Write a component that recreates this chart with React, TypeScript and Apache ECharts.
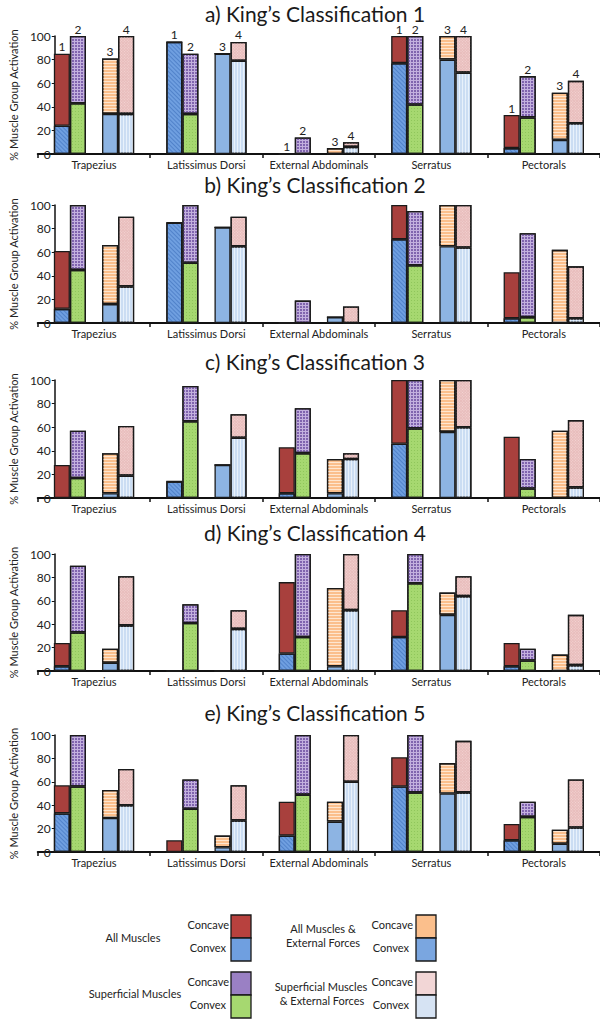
import React, { useEffect, useRef } from "react";
import * as echarts from "echarts";

const muscles = ["Trapezius", "Latissimus Dorsi", "External Abdominals", "Serratus", "Pectorals"];
const panelTitles = [
  "a) King\u2019s Classification 1",
  "b) King\u2019s Classification 2",
  "c) King\u2019s Classification 3",
  "d) King\u2019s Classification 4",
  "e) King\u2019s Classification 5",
];
const yTicks = [0, 20, 40, 60, 80, 100];
const barNumbers = ["1", "2", "3", "4"];

// rows = panels a..e, columns = muscles; values are bar heights (% activation)
const allMusclesConvex = [
  [24, 95, 0, 77, 5],
  [12, 85, 0, 71, 4],
  [0, 14, 4, 46, 0],
  [4, 0, 15, 29, 4],
  [33, 0, 14, 56, 10],
];
const allMusclesConcave = [
  [85, 95, 0, 100, 33],
  [61, 85, 0, 100, 43],
  [28, 14, 43, 100, 52],
  [24, 0, 76, 52, 24],
  [57, 10, 43, 81, 24],
];
const superficialConvex = [
  [43, 34, 0, 42, 31],
  [45, 51, 0, 49, 5],
  [17, 65, 38, 59, 8],
  [33, 41, 29, 75, 9],
  [56, 37, 49, 51, 30],
];
const superficialConcave = [
  [100, 85, 14, 100, 66],
  [100, 100, 19, 95, 76],
  [57, 95, 76, 100, 33],
  [90, 57, 100, 100, 19],
  [100, 62, 100, 100, 43],
];
const allExtConvex = [
  [34, 85, 0, 80, 12],
  [16, 81, 5, 65, 0],
  [4, 28, 4, 56, 0],
  [7, 0, 4, 48, 0],
  [29, 4, 26, 50, 7],
];
const allExtConcave = [
  [81, 85, 5, 100, 52],
  [66, 81, 5, 100, 62],
  [38, 28, 33, 100, 57],
  [19, 0, 71, 67, 14],
  [53, 14, 43, 76, 19],
];
const supExtConvex = [
  [34, 79, 6, 69, 26],
  [31, 65, 0, 64, 4],
  [19, 51, 33, 60, 9],
  [39, 36, 52, 64, 5],
  [40, 27, 60, 51, 21],
];
const supExtConcave = [
  [100, 95, 10, 100, 62],
  [90, 90, 14, 100, 48],
  [61, 71, 38, 100, 66],
  [81, 52, 100, 81, 48],
  [71, 57, 100, 95, 62],
];

const FONT = "Lato, 'Open Sans', sans-serif";
const BORDER = "#1a1a1a";

const styles = {
  allConvex: {
    color: "#6f9fe0",
    decal: { symbol: "rect", symbolSize: 1, color: "rgba(45,95,175,0.45)", dashArrayX: [1, 0], dashArrayY: [1, 2], rotation: Math.PI / 4 },
  },
  allConcave: { color: "#a8403d" },
  supConvex: {
    color: "#a6d870",
    decal: { symbol: "rect", symbolSize: 1, color: "rgba(120,180,70,0.5)", dashArrayX: [1, 2], dashArrayY: [1, 2] },
  },
  supConcave: {
    color: "#c3b0de",
    decal: { symbol: "rect", symbolSize: 1, color: "#8064ae", dashArrayX: [2, 1], dashArrayY: [2, 1] },
  },
  extConvex: { color: "#8db4e3" },
  extConcave: {
    color: "#fbbf8c",
    decal: { symbol: "rect", symbolSize: 1, color: "rgba(255,238,220,0.85)", dashArrayX: [1, 0], dashArrayY: [1, 2] },
  },
  supExtConvex: {
    color: "#cbddf3",
    decal: { symbol: "rect", symbolSize: 1, color: "rgba(235,243,252,0.9)", dashArrayX: [1, 2], dashArrayY: [1, 0] },
  },
  supExtConcave: {
    color: "#e8bdbc",
    decal: { symbol: "rect", symbolSize: 1, color: "rgba(245,215,214,0.9)", dashArrayX: [1, 1], dashArrayY: [1, 1], rotation: Math.PI / 4 },
  },
};

const gridTops = [36, 205, 380, 554, 735];
const gridBottoms = [154, 323, 498, 671, 852];
const titleTops = [5, 176, 353, 524, 704];

function buildOption() {
  const grids: any[] = [];
  const xAxes: any[] = [];
  const yAxes: any[] = [];
  const series: any[] = [];
  const titles: any[] = [];

  const groups = [
    { convex: allMusclesConvex, concave: allMusclesConcave, cs: styles.allConvex, ks: styles.allConcave },
    { convex: superficialConvex, concave: superficialConcave, cs: styles.supConvex, ks: styles.supConcave },
    { convex: allExtConvex, concave: allExtConcave, cs: styles.extConvex, ks: styles.extConcave },
    { convex: supExtConvex, concave: supExtConcave, cs: styles.supExtConvex, ks: styles.supExtConcave },
  ];

  for (let p = 0; p < 5; p++) {
    titles.push({
      text: panelTitles[p],
      left: 315,
      textAlign: "center",
      top: titleTops[p],
      padding: 0,
      textStyle: { fontFamily: FONT, fontSize: 21, lineHeight: 17, fontWeight: "normal", color: "#1a1a1a" },
    });
    grids.push({ left: 19, right: -15, top: gridTops[p], height: gridBottoms[p] - gridTops[p] });
    xAxes.push({
      type: "category",
      gridIndex: p,
      data: muscles,
      axisLine: { lineStyle: { color: "#111", width: 2 } },
      axisTick: { show: true, length: 4, lineStyle: { color: "#111", width: 1.5 } },
      axisLabel: { fontFamily: FONT, fontSize: 11, color: "#222", margin: 5, interval: 0 },
    });
    yAxes.push({
      type: "value",
      gridIndex: p,
      min: 0,
      max: 100,
      interval: 20,
      offset: -17,
      name: "% Muscle Group Activation",
      nameLocation: "middle",
      nameRotate: 90,
      nameGap: 23,
      nameTextStyle: { fontFamily: FONT, fontSize: 11, color: "#222" },
      axisLine: { show: true, lineStyle: { color: "#111", width: 1.5 } },
      axisTick: { show: true, length: 3, lineStyle: { color: "#111" } },
      splitLine: { show: false },
      axisLabel: {
        fontFamily: FONT,
        fontSize: 12,
        color: "#222",
        margin: 4,
        formatter: (v: number) => (yTicks.includes(v) ? String(v) : ""),
      },
    });

    groups.forEach((g, k) => {
      const stack = `p${p}b${k}`;
      const conv = g.convex[p];
      const conc = g.concave[p];
      const common = {
        type: "bar",
        xAxisIndex: p,
        yAxisIndex: p,
        stack,
        barGap: "0%",
        barCategoryGap: "28.57%",
      };
      series.push({
        ...common,
        name: `${stack}-convex`,
        data: conv,
        itemStyle: { ...g.cs, borderColor: BORDER, borderWidth: 1.3 },
      });
      series.push({
        ...common,
        name: `${stack}-concave`,
        data: conc.map((v, i) => Math.max(0, v - conv[i])),
        itemStyle: { ...g.ks, borderColor: BORDER, borderWidth: 1.3 },
        label:
          p === 0
            ? {
                show: true,
                position: "top",
                distance: 1,
                formatter: barNumbers[k],
                fontFamily: FONT,
                fontSize: 12,
                lineHeight: 12,
                color: "#222",
              }
            : { show: false },
      });
      if (k === 1) {
        series.push({
          ...common,
          name: `p${p}gap`,
          stack: `p${p}gap`,
          data: muscles.map(() => null),
        });
      }
    });
  }

  const legendText = (text: string, x: number, y: number, align: string) => ({
    type: "text",
    x,
    y,
    style: { text, fontFamily: FONT, fontSize: 11, fill: "#222", align, verticalAlign: "middle" },
  });
  const swatch = (x: number, y: number, fill: string) => ({
    type: "rect",
    shape: { x, y, width: 20, height: 23 },
    style: { fill, stroke: BORDER, lineWidth: 1.3 },
  });

  const graphic: any[] = [
    legendText("All Muscles", 133, 937, "center"),
    legendText("Superficial Muscles", 135, 993, "center"),
    legendText("All Muscles &", 323, 928, "center"),
    legendText("External Forces", 323, 942, "center"),
    legendText("Superficial Muscles", 321, 986, "center"),
    legendText("& External Forces", 322, 1000, "center"),
    legendText("Concave", 229, 924, "right"),
    legendText("Convex", 226, 947, "right"),
    legendText("Concave", 229, 981, "right"),
    legendText("Convex", 226, 1004, "right"),
    legendText("Concave", 413, 924, "right"),
    legendText("Convex", 409, 947, "right"),
    legendText("Concave", 413, 981, "right"),
    legendText("Convex", 409, 1004, "right"),
    swatch(231, 915, "#b8413e"),
    swatch(231, 938, "#6f9fe0"),
    swatch(231, 972, "#9a80c4"),
    swatch(231, 995, "#a6d870"),
    swatch(416, 915, "#fbbf8c"),
    swatch(416, 938, "#7aa6e0"),
    swatch(416, 972, "#f2d6d6"),
    swatch(416, 995, "#d6e3f3"),
  ];

  return {
    animation: false,
    backgroundColor: "#ffffff",
    title: titles,
    grid: grids,
    xAxis: xAxes,
    yAxis: yAxes,
    series,
    graphic,
  };
}

export default function App() {
  const ref = useRef<HTMLDivElement>(null);
  useEffect(() => {
    document.body.style.margin = "0";
    if (!ref.current) return;
    const chart = echarts.init(ref.current, null, { renderer: "svg" });
    chart.setOption(buildOption() as any);
    return () => chart.dispose();
  }, []);
  return <div ref={ref} style={{ width: 600, height: 1019, overflow: "hidden" }} />;
}
